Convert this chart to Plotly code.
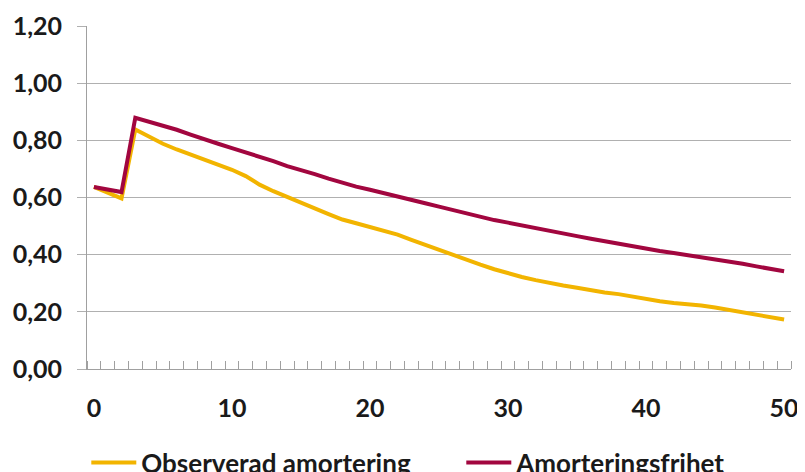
import plotly.graph_objects as go

years = list(range(0, 51))
observerad = [0.637, 0.617, 0.597, 0.838, 0.812, 0.788, 0.768, 0.750, 0.733, 0.716,
              0.697, 0.675, 0.645, 0.622, 0.601, 0.582, 0.562, 0.542, 0.523, 0.510,
              0.497, 0.485, 0.470, 0.452, 0.434, 0.416, 0.398, 0.381, 0.365, 0.349,
              0.334, 0.322, 0.311, 0.300, 0.292, 0.284, 0.275, 0.268, 0.262, 0.253,
              0.244, 0.237, 0.231, 0.227, 0.222, 0.215, 0.207, 0.199, 0.190, 0.181,
              0.173]
frihet = [0.637, 0.628, 0.619, 0.879, 0.866, 0.852, 0.837, 0.820, 0.803, 0.788,
          0.773, 0.758, 0.744, 0.727, 0.710, 0.697, 0.682, 0.666, 0.651, 0.638,
          0.627, 0.616, 0.604, 0.592, 0.580, 0.568, 0.556, 0.544, 0.532, 0.521,
          0.512, 0.502, 0.493, 0.483, 0.474, 0.465, 0.456, 0.447, 0.439, 0.430,
          0.421, 0.413, 0.406, 0.399, 0.392, 0.384, 0.376, 0.368, 0.359, 0.351,
          0.342]
x_ticks = [0, 10, 20, 30, 40, 50]
y_ticks = [0.0, 0.2, 0.4, 0.6, 0.8, 1.0, 1.2]
y_labels = ["0,00", "0,20", "0,40", "0,60", "0,80", "1,00", "1,20"]

FONT = "Lato"
SIZE = 25
txt = "#1a1a1a"

fig = go.Figure()
fig.add_trace(go.Scatter(x=years, y=observerad, mode="lines", name="Observerad amortering",
                         line=dict(color="#F2B400", width=4)))
fig.add_trace(go.Scatter(x=years, y=frihet, mode="lines", name="Amorteringsfrihet",
                         line=dict(color="#A2063F", width=4)))

fig.update_layout(
    width=797, height=464,
    margin=dict(l=79, r=14, t=18, b=103, autoexpand=False),
    paper_bgcolor="white", plot_bgcolor="white",
    font=dict(family=FONT, size=SIZE, color=txt),
    showlegend=True,
    legend=dict(orientation="h", x=-0.001, xanchor="left", y=-0.273, yanchor="middle",
                bgcolor="rgba(0,0,0,0)",
                font=dict(family=FONT, size=26, color=txt, weight="bold"),
                entrywidth=315, entrywidthmode="pixels", itemwidth=45,
                tracegroupgap=0),
    xaxis=dict(range=[-0.5, 50.5], tickmode="array", tickvals=x_ticks,
               ticktext=[str(v) for v in x_ticks], ticks="", showgrid=False,
               zeroline=False, showline=True, linecolor="#A0A0A0", linewidth=1,
               tickfont=dict(family=FONT, size=SIZE, color=txt, weight="bold"),
               ticklabelstandoff=17,
               minor=dict(ticks="inside", tick0=0.5, dtick=1, ticklen=8,
                          tickcolor="#A0A0A0", tickwidth=1, showgrid=False)),
    yaxis=dict(range=[0, 1.2], tickmode="array", tickvals=y_ticks, ticktext=y_labels,
               showgrid=True, gridcolor="#B0B0B0", gridwidth=1, zeroline=False,
               showline=True, linecolor="#A0A0A0", linewidth=1,
               ticks="outside", ticklen=9, tickcolor="#B0B0B0",
               tickfont=dict(family=FONT, size=SIZE, color=txt, weight="bold"),
               ticklabelstandoff=10),
)

fig.write_html("out.html")
